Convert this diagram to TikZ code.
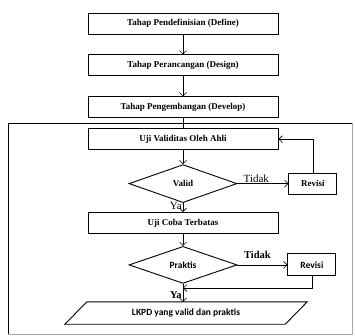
\documentclass[tikz,border=0pt]{standalone}
\usepackage{fontspec}
\setmainfont{Liberation Serif}
\newfontfamily\calib{Carlito}
\usetikzlibrary{positioning,arrows.meta,shapes.geometric}

\begin{document}
\begin{tikzpicture}[x=1pt, y=-1pt, node distance=20pt,
  every node/.style={font=\fontsize{9}{10}\selectfont\bfseries},
  box/.style={draw, line width=0.9pt, minimum width=190pt, minimum height=21pt, inner sep=0pt},
  rev/.style={draw, line width=0.9pt, minimum width=48pt, minimum height=21pt, inner sep=0pt},
  cek/.style={draw, diamond, line width=0.9pt, inner sep=0pt, minimum width=108pt, minimum height=38pt},
  lbl/.style={font=\fontsize{11}{12}\selectfont, inner sep=1pt},
  arr/.style={-{Straight Barb[length=3.5pt, width=7pt]}, line width=0.6pt}]
\useasboundingbox (0,0) rectangle (355,335);
\draw[line width=0.9pt] (8,334) |- (352,123);
\draw[black!35, line width=0.6pt] (352,123) |- (8,334);
\node[box] (define) at (183,23.5) {Tahap Pendefinisian (Define)};
\node[box, below=of define] (design) {Tahap Perancangan (Design)};
\node[box, below=of design] (develop) {Tahap Pengembangan (Develop)};
\node[box, below=10pt of develop] (validasi) {Uji Validitas Oleh Ahli};
\node[cek, below=14pt of validasi] (valid) {Valid};
\node[rev, right=51pt of valid] (revisiA) {Revisi};
\node[box, below=9pt of valid] (ujicoba) {Uji Coba Terbatas};
\node[cek, below=12pt of ujicoba, minimum height=37pt, font=\calib\fontsize{9.5}{10}\selectfont\bfseries] (praktis) {Praktis};
\node[rev, right=50pt of praktis, minimum height=22pt, font=\calib\fontsize{9.5}{10}\selectfont\bfseries] (revisiB) {Revisi};
\node[minimum width=220pt, minimum height=22pt, inner sep=0pt, xshift=3pt,
  font=\calib\fontsize{9.5}{10}\selectfont\bfseries, below=18pt of praktis] (lkpd) {LKPD yang valid dan praktis};
\draw[line width=0.9pt] ([xshift=11pt]lkpd.north west) -- ([xshift=11pt]lkpd.north east)
  -- ([xshift=-11pt]lkpd.south east) -- ([xshift=-11pt]lkpd.south west) -- cycle;
\coordinate (gabung) at (183,288);
\foreach \a/\b in {define/design, design/develop, validasi/valid, ujicoba/praktis} \draw[arr] (\a) -- (\b);
\draw[line width=0.6pt] (develop) -- (validasi);
\draw[arr] (valid) -- node[lbl, above, pos=0.37, font=\fontsize{11}{12}\selectfont] {Tidak} (revisiA);
\draw[arr] (revisiA.north) |- (validasi.east);
\draw[arr] (valid) -- node[lbl, left, pos=0.35, font=\fontsize{11}{12}\selectfont] {Ya} (ujicoba);
\draw[arr] (praktis) -- node[lbl, above=5pt, pos=0.4, font=\fontsize{10.5}{12}\selectfont\bfseries] {Tidak} (revisiB);
\draw[arr] (revisiB.south) |- (gabung);
\draw[arr] (praktis.south) -- node[lbl, left, pos=0.65, font=\fontsize{10.5}{12}\selectfont\bfseries] {Ya} (praktis.south |- lkpd.north);
\end{tikzpicture}
\end{document}
